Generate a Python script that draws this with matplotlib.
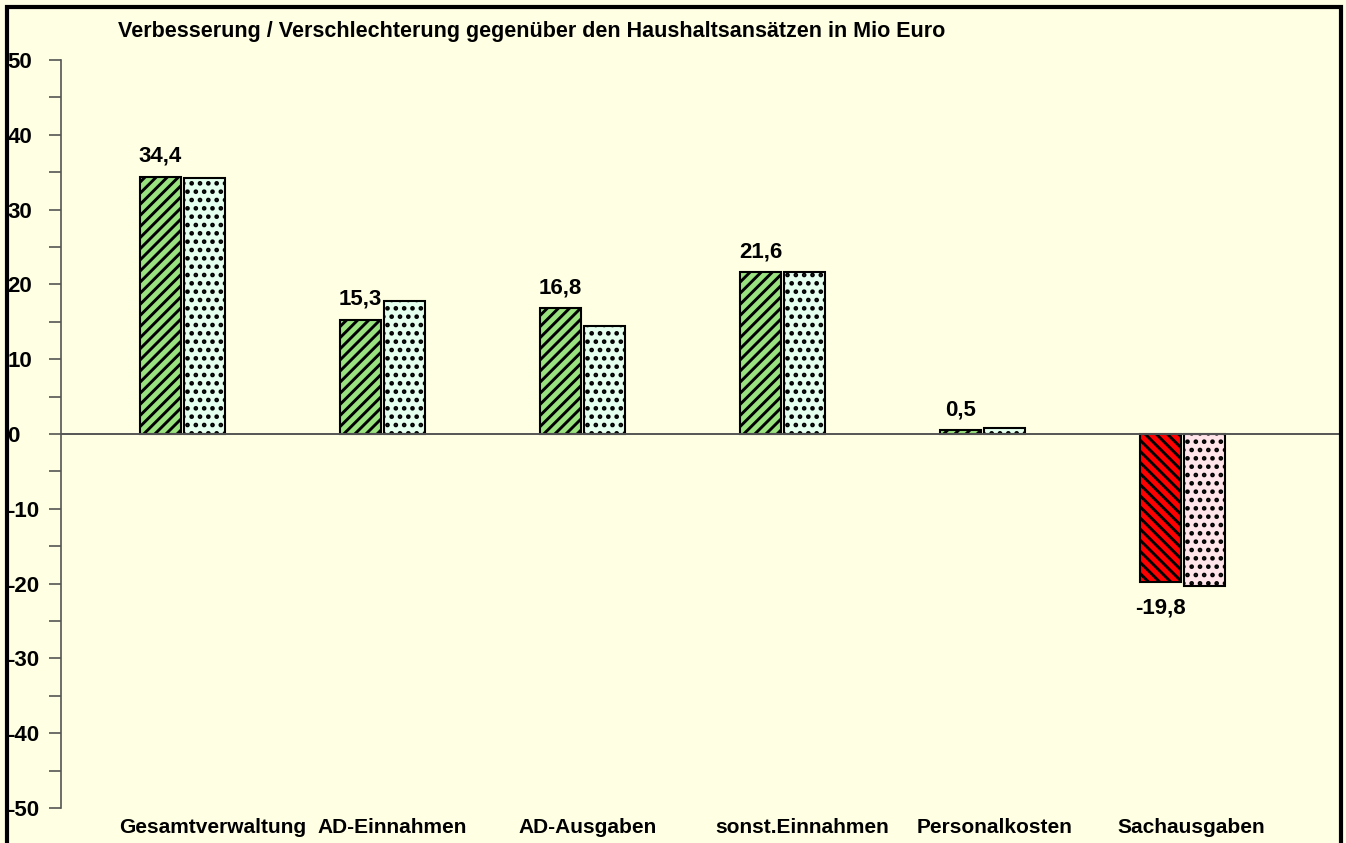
import matplotlib.pyplot as plt
from matplotlib.patches import Rectangle
from matplotlib.ticker import MultipleLocator

plt.rcParams['font.family'] = ['Liberation Sans', 'DejaVu Sans']
plt.rcParams['font.weight'] = 'bold'
plt.rcParams['axes.unicode_minus'] = False
plt.rcParams['hatch.linewidth'] = 2.1

# Daten
kategorien = ['Gesamtverwaltung', 'AD-Einnahmen', 'AD-Ausgaben',
              'sonst.Einnahmen', 'Personalkosten', 'Sachausgaben']
ist_werte = [34.4, 15.3, 16.8, 21.6, 0.5, -19.8]
vergleich_werte = [34.2, 17.8, 14.5, 21.7, 0.8, -20.3]

hintergrund = '#FFFFE3'
fig = plt.figure(figsize=(13.46, 8.43), dpi=100, facecolor=hintergrund)
ax = fig.add_axes([61/1346, 35/843, (1340-61)/1346, (808-60)/843])
ax.set_facecolor(hintergrund)

x = list(range(len(kategorien)))
breite = 0.205
for i, (a, b) in enumerate(zip(ist_werte, vergleich_werte)):
    if a >= 0:
        f1, h1, f2 = '#99E27F', '///', '#E4FFEE'
    else:
        f1, h1, f2 = '#FF0000', '\\\\\\', '#FFE4EA'
    ax.bar(i - 0.11, a, breite, color=f1, hatch=h1, edgecolor='black', linewidth=1.5)
    ax.bar(i + 0.11, b, breite, color=f2, hatch='..', edgecolor='black', linewidth=1.5)
    txt = ('%.1f' % a).replace('.', ',')
    if a >= 0:
        ax.annotate(txt, (i - 0.11, a), xytext=(0, 7), textcoords='offset points',
                    ha='center', va='bottom', fontsize=16, fontweight='bold')
    else:
        ax.annotate(txt, (i - 0.11, a), xytext=(0, -11), textcoords='offset points',
                    ha='center', va='top', fontsize=16, fontweight='bold')

ax.axhline(0, color='#555555', linewidth=1.4)
ax.set_xlim((61 - 182.5) / 200, (1340 - 182.5) / 200)
ax.set_ylim(-50, 50)

ax.yaxis.set_major_locator(MultipleLocator(10))
ax.yaxis.set_minor_locator(MultipleLocator(5))
ax.tick_params(axis='y', which='both', length=8.6, width=1.2, color='#555555',
               labelsize=16)
ax.yaxis.set_tick_params(pad=30)
for lbl in ax.get_yticklabels():
    lbl.set_horizontalalignment('left')
    lbl.set_fontweight('bold')

# Beschriftungen etwas versetzt wie im Original
versatz = [0.15, 0.05, 0.025, 0.1, 0.06, 0.045]
ax.set_xticks([i + v for i, v in zip(x, versatz)])
ax.set_xticklabels(kategorien, fontsize=15, fontweight='bold')
ax.tick_params(axis='x', length=0, pad=7)

for s in ['top', 'right', 'bottom']:
    ax.spines[s].set_visible(False)
ax.spines['left'].set_color('#555555')
ax.spines['left'].set_linewidth(1.2)

# Titel
fig.text(118/1346, 1 - 32/843, 'Verbesserung / Verschlechterung gegenüber den Haushaltsansätzen in Mio Euro',
         fontsize=15.5, fontweight='bold', ha='left', va='center')

# Rahmen
fig.patches.append(Rectangle((7/1346, -0.05), (1341-7)/1346, 1.05 - 7/843,
                             transform=fig.transFigure, fill=False,
                             edgecolor='black', linewidth=3))

plt.savefig('out.png', dpi=100, facecolor=hintergrund)
